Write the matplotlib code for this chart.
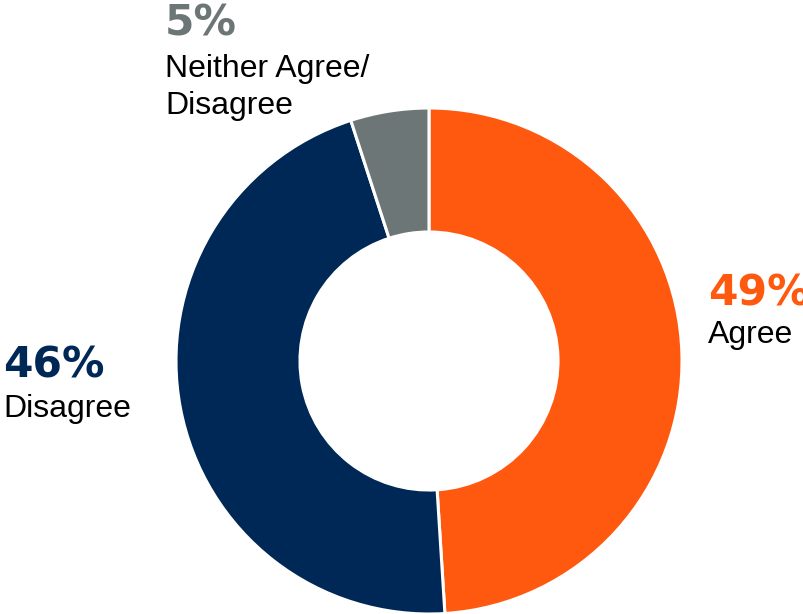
import matplotlib.pyplot as plt

labels = ['Agree', 'Disagree', 'Neither Agree/\nDisagree']
values = [49, 46, 5]
pct_labels = ['49%', '46%', '5%']
colors = ['#FF580F', '#002856', '#6D7677']

W, H = 804, 614
fig = plt.figure(figsize=(W / 100, H / 100), dpi=100)

# donut: centre (429, 361) px, radius 253 px
cx, cy, r = 429, 361, 253
ax = fig.add_axes([(cx - r) / W, (H - cy - r) / H, 2 * r / W, 2 * r / H])
ax.pie(values, colors=colors, startangle=90, counterclock=False, radius=1,
       wedgeprops=dict(width=0.49, edgecolor='white', linewidth=2.2))
ax.set_xlim(-1, 1)
ax.set_ylim(-1, 1)
ax.set_aspect('equal')
ax.axis('off')

def px(x, y):
    return x / W, (H - y) / H

# (x, baseline of percent, baseline of first label line) in pixels
spots = [(708, 305, 343), (3, 377, 417), (165, 35, 77)]
for (x, yp, yl), p, lab, c in zip(spots, pct_labels, labels, colors):
    fig.text(*px(x, yp), p, color=c, fontsize=30.5, fontweight='heavy',
             family='DejaVu Sans', va='baseline', ha='left')
    for i, line in enumerate(lab.split('\n')):
        fig.text(*px(x, yl + i * 37), line, color='black', fontsize=23,
                 family='Liberation Sans', va='baseline', ha='left')

fig.savefig('out.png', dpi=100)
